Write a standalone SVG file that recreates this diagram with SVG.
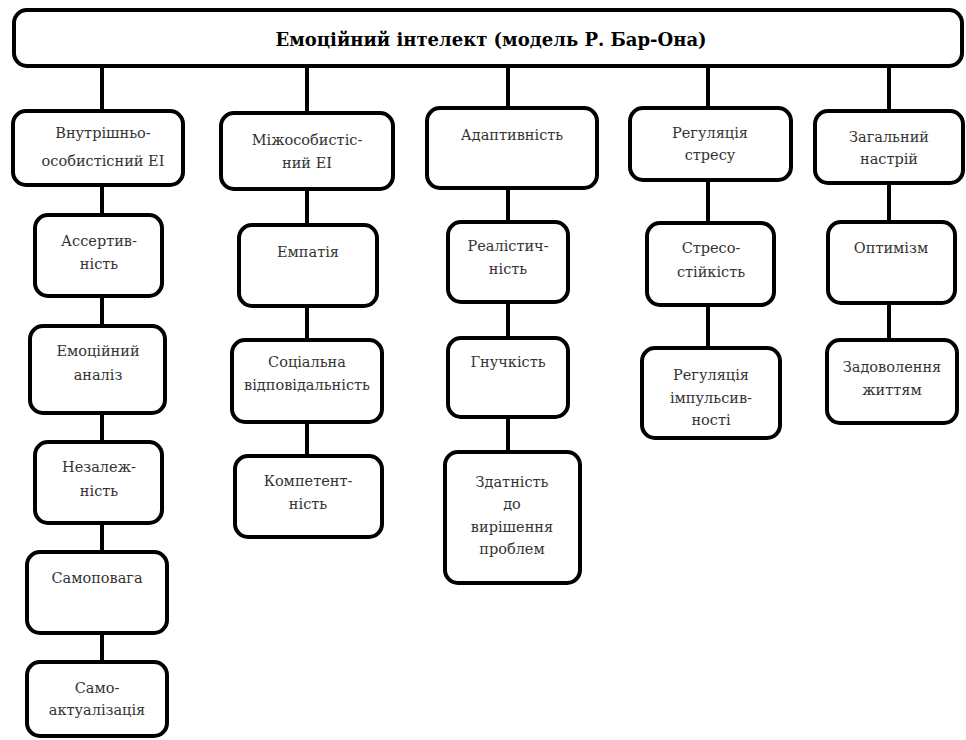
<svg xmlns="http://www.w3.org/2000/svg" width="966" height="740" viewBox="0 0 966 740">
<style>
.box{fill:#fff;stroke:#000;stroke-width:4}
.ln{stroke:#000;stroke-width:4;fill:none}
text.l{font-family:"DejaVu Serif",serif;font-size:14.5px;fill:#333;text-anchor:middle}
text.title{font-family:"DejaVu Serif",serif;font-size:18px;font-weight:bold;fill:#000;text-anchor:middle}
</style>
<rect width="966" height="740" fill="#fff"/>
<g id="connectors">
<path class="ln" d="M102 66V111M102 185V215M102 296V326M102 413V442M102 523V552M102 633V662"/>
<path class="ln" d="M307 66V113M307 189V225M307 306V340M307 422V456"/>
<path class="ln" d="M508 66V108M508 188V222M508 302V338M508 417V452"/>
<path class="ln" d="M708 66V108M708 180V223M708 305V348"/>
<path class="ln" d="M889 66V111M889 183V222M889 303V340"/>
</g>
<g id="root"><rect class="box" x="14" y="10" width="948" height="56" rx="13"/><text class="title" x="491" y="46">Емоційний інтелект (модель Р. Бар-Она)</text></g>
<g id="intra"><rect class="box" x="13" y="111" width="170" height="74" rx="13"/><text class="l" x="103" y="138">Внутрішньо-</text><text class="l" x="103" y="166">особистісний ЕІ</text></g>
<g id="assert"><rect class="box" x="35" y="215" width="127" height="81" rx="13"/><text class="l" x="99" y="246">Ассертив-</text><text class="l" x="99" y="269">ність</text></g>
<g id="emanal"><rect class="box" x="30" y="326" width="135" height="87" rx="13"/><text class="l" x="98" y="356">Емоційний</text><text class="l" x="98" y="380">аналіз</text></g>
<g id="indep"><rect class="box" x="35" y="442" width="127" height="81" rx="13"/><text class="l" x="99" y="472">Незалеж-</text><text class="l" x="99" y="496">ність</text></g>
<g id="selfreg"><rect class="box" x="27" y="552" width="140" height="81" rx="13"/><text class="l" x="97" y="583">Самоповага</text></g>
<g id="selfact"><rect class="box" x="27" y="662" width="140" height="74" rx="13"/><text class="l" x="97" y="693">Само-</text><text class="l" x="97" y="715">актуалізація</text></g>
<g id="inter"><rect class="box" x="221" y="113" width="172" height="76" rx="13"/><text class="l" x="307" y="145">Міжособистіс-</text><text class="l" x="307" y="168">ний ЕІ</text></g>
<g id="empathy"><rect class="box" x="239" y="225" width="138" height="81" rx="13"/><text class="l" x="308" y="257">Емпатія</text></g>
<g id="social"><rect class="box" x="232" y="340" width="150" height="82" rx="13"/><text class="l" x="307" y="367">Соціальна</text><text class="l" x="307" y="390">відповідальність</text></g>
<g id="compet"><rect class="box" x="235" y="456" width="147" height="81" rx="13"/><text class="l" x="308" y="486">Компетент-</text><text class="l" x="308" y="509">ність</text></g>
<g id="adapt"><rect class="box" x="427" y="108" width="170" height="80" rx="13"/><text class="l" x="512" y="140">Адаптивність</text></g>
<g id="real"><rect class="box" x="448" y="222" width="120" height="80" rx="13"/><text class="l" x="508" y="251">Реалістич-</text><text class="l" x="508" y="274">ність</text></g>
<g id="flex"><rect class="box" x="448" y="338" width="120" height="79" rx="13"/><text class="l" x="508" y="367">Гнучкість</text></g>
<g id="problem"><rect class="box" x="445" y="452" width="135" height="131" rx="13"/><text class="l" x="512" y="487">Здатність</text><text class="l" x="512" y="509">до</text><text class="l" x="512" y="532">вирішення</text><text class="l" x="512" y="554">проблем</text></g>
<g id="stress"><rect class="box" x="630" y="108" width="161" height="72" rx="13"/><text class="l" x="710" y="138">Регуляція</text><text class="l" x="710" y="160">стресу</text></g>
<g id="tolerance"><rect class="box" x="647" y="223" width="127" height="82" rx="13"/><text class="l" x="711" y="253">Стресо-</text><text class="l" x="711" y="277">стійкість</text></g>
<g id="impulse"><rect class="box" x="642" y="348" width="138" height="90" rx="13"/><text class="l" x="711" y="380">Регуляція</text><text class="l" x="711" y="403">імпульсив-</text><text class="l" x="711" y="425">ності</text></g>
<g id="mood"><rect class="box" x="815" y="111" width="148" height="72" rx="13"/><text class="l" x="889" y="142">Загальний</text><text class="l" x="889" y="164">настрій</text></g>
<g id="optim"><rect class="box" x="828" y="222" width="127" height="81" rx="13"/><text class="l" x="891" y="253">Оптимізм</text></g>
<g id="happy"><rect class="box" x="827" y="340" width="130" height="83" rx="13"/><text class="l" x="892" y="372">Задоволення</text><text class="l" x="892" y="395">життям</text></g>
</svg>
